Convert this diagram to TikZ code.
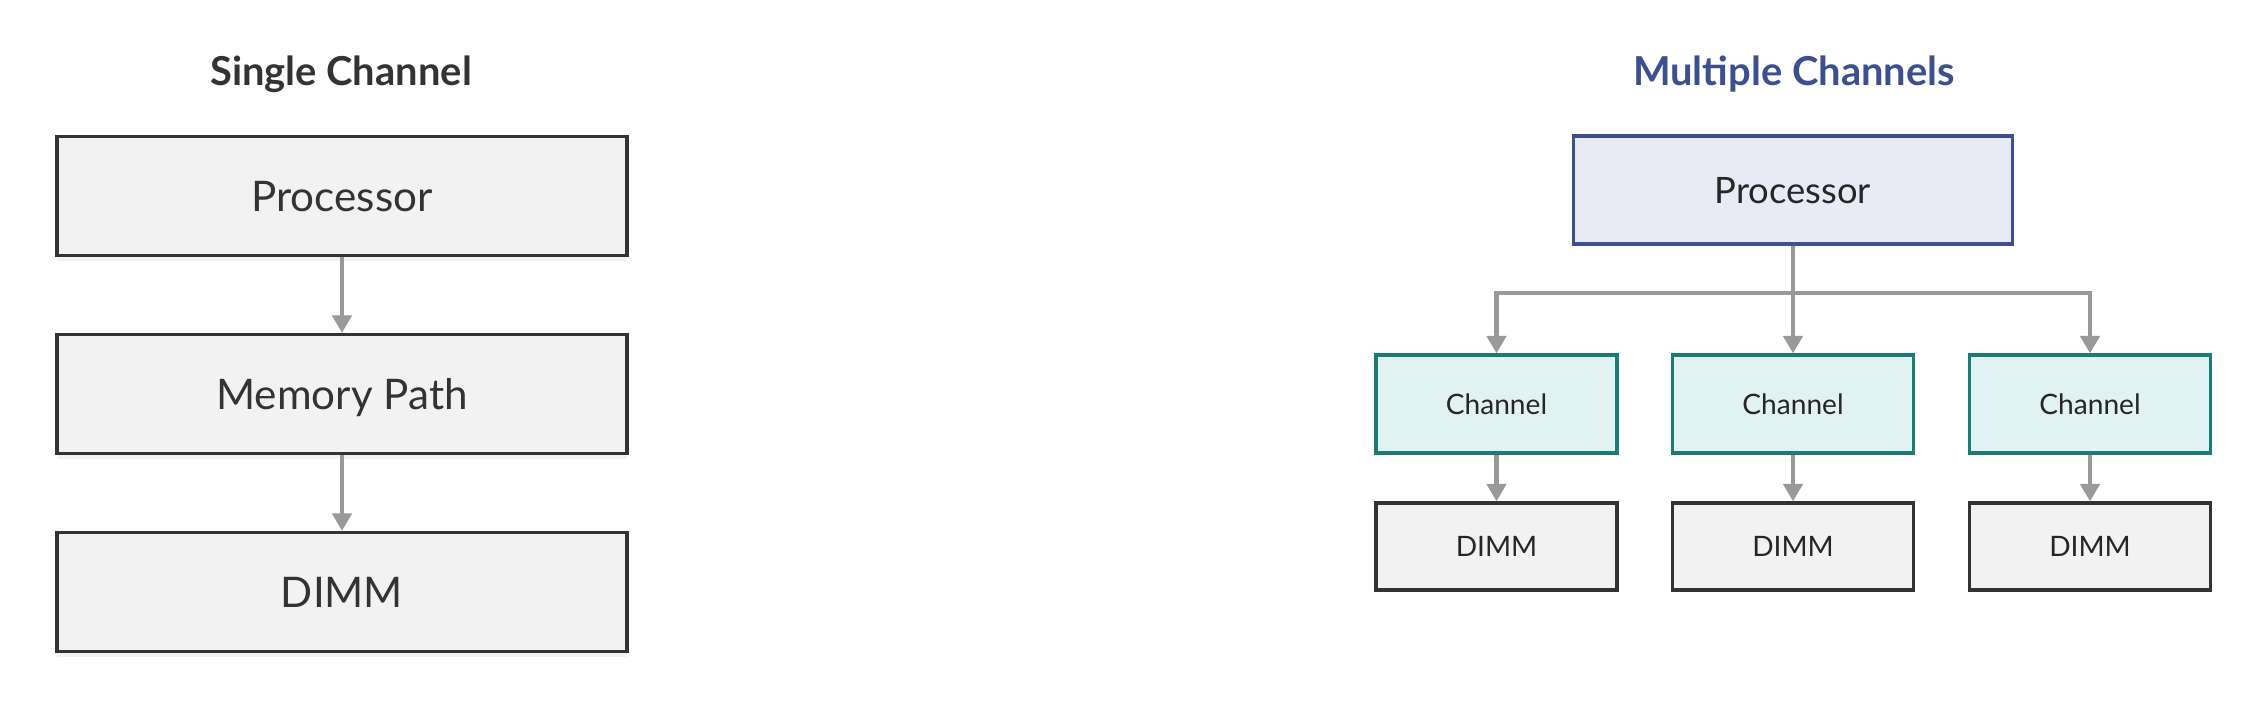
\documentclass[tikz,border=0pt]{standalone}
\usepackage{fontspec}
\setmainfont{Lato}
\usetikzlibrary{arrows.meta,shadows}

\definecolor{boxgray}{HTML}{F2F2F2}
\definecolor{edgegray}{HTML}{333333}
\definecolor{linkgray}{HTML}{999999}
\definecolor{procblue}{HTML}{E8EAF6}
\definecolor{edgeblue}{HTML}{3D4F8F}
\definecolor{chanteal}{HTML}{E0F2F1}
\definecolor{edgeteal}{HTML}{1E7B74}

\tikzset{
  bigbox/.style={draw=edgegray, fill=boxgray, line width=1.9pt, text=edgegray,
    minimum width=570*0.02cm, minimum height=119*0.02cm, text depth=0pt,
    font=\fontsize{24}{28}\selectfont,
    drop shadow={opacity=0.10, shadow xshift=0pt, shadow yshift=-3pt}},
  cpubox/.style={draw=edgeblue, fill=procblue, line width=1.9pt, text=black!85,
    minimum width=439*0.02cm, minimum height=108*0.02cm, text depth=0pt,
    font=\fontsize{20.7}{24}\selectfont},
  chanbox/.style={draw=edgeteal, fill=chanteal, line width=1.9pt, text=black!85,
    minimum width=241*0.02cm, minimum height=98*0.02cm,
    font=\fontsize{16}{19}\selectfont},
  dimmbox/.style={draw=edgegray, fill=boxgray, line width=1.9pt, text=black!85,
    minimum width=241*0.02cm, minimum height=87*0.02cm,
    font=\fontsize{16}{19}\selectfont},
  heading/.style={font=\fontsize{22.7}{26}\selectfont\bfseries},
  link/.style={draw=linkgray, line width=2.3pt,
    -{Triangle[width=11pt,length=10pt]}}
}

\begin{document}
\begin{tikzpicture}[x=0.02cm, y=-0.02cm]
  \useasboundingbox (0,0) rectangle (2265,705);

  \node[heading, text=edgegray] (single) at (341,74) {Single Channel};
  \node[bigbox] (proc) at (342,196) {Processor};
  \node[bigbox] (path) at (342,394) {Memory Path};
  \node[bigbox] (dimm) at (342,592) {DIMM};

  \draw[link] (proc) -- (path);
  \draw[link] (path) -- (dimm);

  \node[heading, text=edgeblue] (multi) at (1794,74) {Multiple Channels};
  \node[cpubox] (mproc) at (1793,190) {Processor};
  \coordinate (bus) at (1793,293);

  \node[chanbox] (cha) at (1496.5,404) {Channel};
  \node[chanbox] (chb) at (1793,404) {Channel};
  \node[chanbox] (chc) at (2090,404) {Channel};

  \node[dimmbox] (dma) at (1496.5,546.5) {DIMM};
  \node[dimmbox] (dmb) at (1793,546.5) {DIMM};
  \node[dimmbox] (dmc) at (2090,546.5) {DIMM};

  \draw[link] (mproc) -- (chb);
  \draw[link] (bus) -| (cha.north);
  \draw[link] (bus) -| (chc.north);

  \draw[link] (cha) -- (dma);
  \draw[link] (chb) -- (dmb);
  \draw[link] (chc) -- (dmc);
\end{tikzpicture}
\end{document}
